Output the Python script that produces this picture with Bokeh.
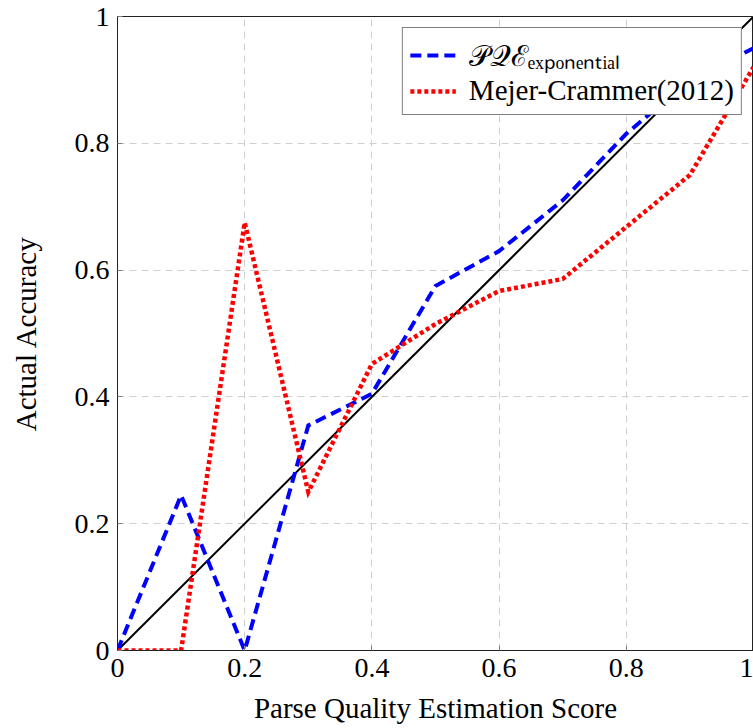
from bokeh.plotting import figure
from bokeh.models import FixedTicker, Legend, LegendItem, Range1d
from bokeh.embed import file_html
from bokeh.resources import INLINE

# ---- data ----
scores = [0.0, 0.1, 0.2, 0.3, 0.4, 0.5, 0.6, 0.7, 0.8, 0.9, 1.0]
pqe_exponential = [0.0, 0.245, 0.0, 0.355, 0.405, 0.575, 0.63, 0.71, 0.815, 0.90, 0.95]
mejer_crammer = [0.0, 0.0, 0.675, 0.25, 0.452, 0.515, 0.567, 0.586, 0.668, 0.75, 0.92]
ideal_x = [0.0, 1.0]
ideal_y = [0.0, 1.0]
tick_values = [0.0, 0.2, 0.4, 0.6, 0.8, 1.0]
tick_labels = ["0", "0.2", "0.4", "0.6", "0.8", "1"]
label_pqe = "\U0001D4AB\U0001D4ACℰₑₓₚₒₙₑₙₜᵢₐₗ"
label_mejer = "Mejer-Crammer(2012)"
x_title = "Parse Quality Estimation Score"
y_title = "Actual Accuracy"

FONT = "Liberation Serif"

p = figure(width=753, height=728, output_backend="svg", toolbar_location=None,
           x_range=Range1d(0, 1), y_range=Range1d(0, 1),
           min_border_left=117, min_border_right=0, min_border_top=16, min_border_bottom=78)

p.background_fill_color = "white"
p.border_fill_color = "white"
p.outline_line_color = "#222222"
p.outline_line_width = 1

r_ideal = p.line(ideal_x, ideal_y, line_color="black", line_width=2)
r_pqe = p.line(scores, pqe_exponential, line_color="#0000ff", line_width=4,
               line_dash="11 6", line_join="miter")
r_mej = p.line(scores, mejer_crammer, line_color="#ff0000", line_width=4.5,
               line_dash="4 3", line_join="miter")

for ax in (p.xaxis[0], p.yaxis[0]):
    ax.ticker = FixedTicker(ticks=tick_values)
    ax.major_label_overrides = dict(zip(tick_values, tick_labels))
    ax.major_label_text_font = FONT
    ax.major_label_text_font_size = "28px"
    ax.major_label_text_color = "black"
    ax.axis_label_text_font = FONT
    ax.axis_label_text_font_size = "29px"
    ax.axis_label_text_font_style = "normal"
    ax.axis_label_text_color = "black"
    ax.major_tick_in = 5
    ax.major_tick_out = 0
    ax.major_tick_line_color = "#7f7f7f"
    ax.minor_tick_line_color = None
    ax.axis_line_color = "#222222"
    ax.major_label_standoff = 8

p.xaxis.axis_label = x_title
p.yaxis.axis_label = y_title
p.xaxis.axis_label_standoff = 12
p.yaxis.axis_label_standoff = 30

for g in (p.xgrid[0], p.ygrid[0]):
    g.ticker = FixedTicker(ticks=tick_values)
    g.grid_line_color = "#d0d0d0"
    g.grid_line_dash = "7 5"
    g.grid_line_width = 1

legend = Legend(items=[LegendItem(label=label_pqe, renderers=[r_pqe]),
                       LegendItem(label=label_mejer, renderers=[r_mej])],
                location="top_right")
legend.margin = 11
legend.padding = 7
legend.spacing = 0
legend.glyph_width = 46
legend.glyph_height = 30
legend.label_height = 30
legend.label_standoff = 13
legend.label_text_font = FONT
legend.label_text_font_size = "29px"
legend.label_text_color = "black"
legend.border_line_color = "black"
legend.border_line_width = 1
legend.background_fill_color = "white"
legend.background_fill_alpha = 1.0
p.add_layout(legend)

open("out.html", "w").write(file_html(p, INLINE))
